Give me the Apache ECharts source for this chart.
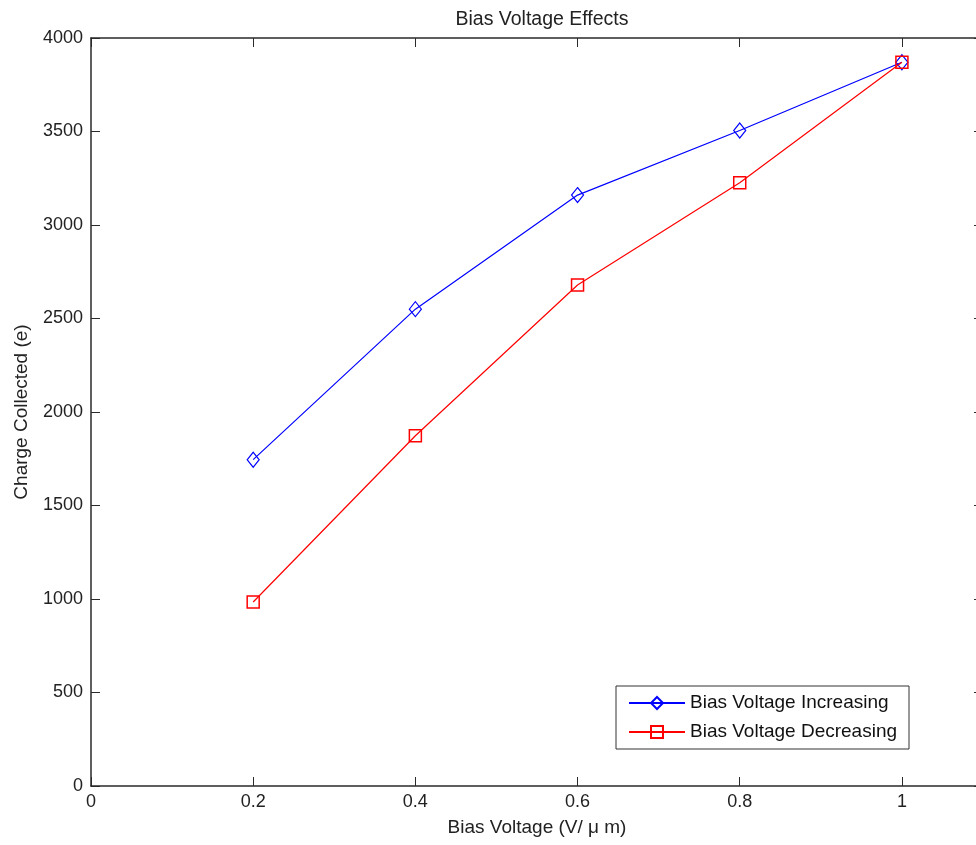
<!DOCTYPE html>
<html>
<head>
<meta charset="utf-8">
<script src="https://cdn.jsdelivr.net/npm/echarts@6/dist/echarts.min.js"></script>
<style>html,body{margin:0;padding:0;background:#fff;overflow:hidden;width:976px;height:845px}#c{width:990px;height:845px}</style>
</head>
<body>
<div id="c"></div>
<script>
const voltages = [0.2, 0.4, 0.6, 0.8, 1.0];
const increasing = [1745, 2550, 3160, 3505, 3870];
const decreasing = [984, 1873, 2679, 3226, 3870];
const seriesNames = ['Bias Voltage Increasing', 'Bias Voltage Decreasing'];
const titleText = 'Bias Voltage Effects';
const xName = 'Bias Voltage (V/ \u03bc m)';
const yName = 'Charge Collected (e)';

const font = 'Liberation Sans, Arial, sans-serif';
const axisCol = '#2a2a2a';
const chart = echarts.init(document.getElementById('c'));
const pairs = arr => voltages.map((v, i) => [v, arr[i]]);
const tickStyle = {show: true, inside: true, length: 9, lineStyle: {color: axisCol, width: 1}};
chart.setOption({
  animation: false,
  backgroundColor: '#fff',
  title: {text: titleText, left: 537, textAlign: 'center', top: 5,
    textStyle: {fontFamily: font, fontSize: 19.5, fontWeight: 'normal', color: '#222'}},
  grid: {left: 91, top: 38, right: 7, bottom: 59, containLabel: false},
  legend: {
    orient: 'vertical', left: 616, top: 686,
    backgroundColor: '#fff', borderColor: '#333', borderWidth: 1,
    padding: [6, 12, 6, 12], itemGap: 7, itemWidth: 56, itemHeight: 15,
    textStyle: {fontFamily: font, fontSize: 19, lineHeight: 22, color: '#111'},
    data: seriesNames
  },
  xAxis: [{
    type: 'value', min: 0, max: 1.1, interval: 0.2, position: 'bottom',
    name: xName, nameLocation: 'middle', nameGap: 32,
    nameTextStyle: {fontFamily: font, fontSize: 19, color: '#222'},
    axisLine: {show: true, onZero: false, lineStyle: {color: axisCol, width: 1.5}},
    axisTick: tickStyle,
    axisLabel: {fontFamily: font, fontSize: 18, color: '#222', margin: 7, showMaxLabel: false,
      formatter: v => String(+v.toFixed(1))},
    splitLine: {show: false}
  }, {
    type: 'value', min: 0, max: 1.1, interval: 0.2, position: 'top',
    axisLine: {show: true, onZero: false, lineStyle: {color: axisCol, width: 1.5}},
    axisTick: tickStyle, axisLabel: {show: false}, splitLine: {show: false}
  }],
  yAxis: [{
    type: 'value', min: 0, max: 4000, interval: 500, position: 'left',
    name: yName, nameLocation: 'middle', nameGap: 60, nameRotate: 90,
    nameTextStyle: {fontFamily: font, fontSize: 19, color: '#222'},
    axisLine: {show: true, onZero: false, lineStyle: {color: axisCol, width: 1.5}},
    axisTick: tickStyle,
    axisLabel: {fontFamily: font, fontSize: 18, color: '#222', margin: 8, formatter: v => String(v)},
    splitLine: {show: false}
  }, {
    type: 'value', min: 0, max: 4000, interval: 500, position: 'right',
    axisLine: {show: true, onZero: false, lineStyle: {color: axisCol, width: 1.5}},
    axisTick: tickStyle, axisLabel: {show: false}, splitLine: {show: false}
  }],
  series: [{
    name: seriesNames[0], type: 'line', data: pairs(increasing),
    symbol: 'diamond', symbolSize: [12, 15], showAllSymbol: true,
    lineStyle: {color: '#0000ff', width: 1.2},
    itemStyle: {color: 'rgba(255,255,255,0)', borderColor: '#0000ff', borderWidth: 1.2},
    z: 3
  }, {
    name: seriesNames[1], type: 'line', data: pairs(decreasing),
    symbol: 'rect', symbolSize: 12, showAllSymbol: true,
    lineStyle: {color: '#ff0000', width: 1.2},
    itemStyle: {color: 'rgba(255,255,255,0)', borderColor: '#ff0000', borderWidth: 1.5},
    z: 4
  }]
});
</script>
</body>
</html>
